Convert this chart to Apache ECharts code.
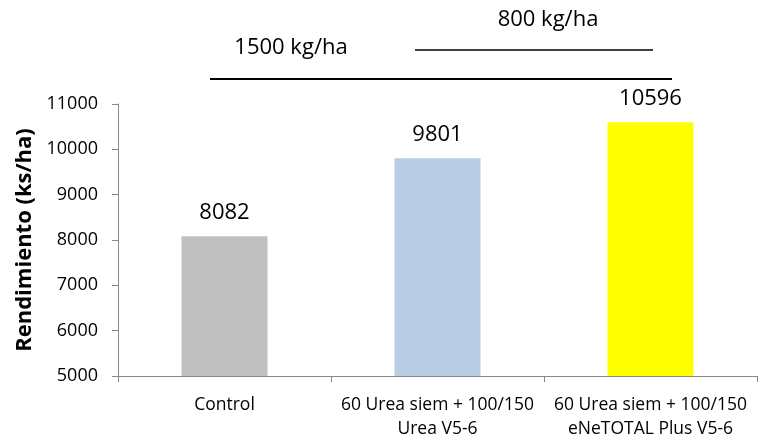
<!DOCTYPE html>
<html><head><meta charset="utf-8">
<script src="https://cdn.jsdelivr.net/npm/echarts@6/dist/echarts.min.js"></script>
<style>html,body{margin:0;padding:0;background:#fff}#c{width:759px;height:441px}</style>
</head><body><div id="c"></div>
<script>
const categories = ['Control', '60 Urea siem + 100/150\nUrea V5-6', '60 Urea siem + 100/150\neNeTOTAL Plus V5-6'];
const values = [8082, 9801, 10596];
const colors = ['#BFBFBF', '#B9CDE5', '#FFFF00'];
const yTicks = {min: 5000, max: 11000, interval: 1000};
const annotations = ['1500 kg/ha', '800 kg/ha'];
const font = '"Open Sans", sans-serif';

const chart = echarts.init(document.getElementById('c'));
chart.setOption({
  animation: false,
  grid: {left: 118, right: 2, top: 104, bottom: 64, containLabel: false},
  xAxis: {
    type: 'category', data: categories,
    axisLine: {lineStyle: {color: '#868686', width: 1}},
    axisTick: {show: true, length: 6, alignWithLabel: false, lineStyle: {color: '#868686'}},
    axisLabel: {interval: 0, color: '#000', fontSize: 17.5, fontFamily: font, margin: 17, lineHeight: 24, hideOverlap: false}
  },
  yAxis: {
    type: 'value', min: yTicks.min, max: yTicks.max, interval: yTicks.interval,
    name: 'Rendimiento (ks/ha)', nameLocation: 'middle', nameGap: 82,
    nameTextStyle: {fontSize: 22, fontWeight: 'bold', color: '#000', fontFamily: font},
    axisLine: {show: true, lineStyle: {color: '#868686'}},
    axisTick: {show: true, length: 6, lineStyle: {color: '#868686'}},
    splitLine: {show: false},
    axisLabel: {color: '#000', fontSize: 18, fontFamily: font, margin: 20, formatter: v => String(v)}
  },
  series: [{
    type: 'bar', barWidth: 86,
    data: values.map((v, i) => ({value: v, itemStyle: {color: colors[i]}})),
    label: {show: true, position: 'top', distance: 13, color: '#000', fontSize: 22, fontFamily: font}
  }],
  graphic: [
    {type: 'line', shape: {x1: 210, y1: 79, x2: 672, y2: 79}, style: {stroke: '#000', lineWidth: 2}},
    {type: 'line', shape: {x1: 415, y1: 50, x2: 653, y2: 50}, style: {stroke: '#000', lineWidth: 1.5}},
    {type: 'text', x: 291, y: 48, style: {text: annotations[0], fontSize: 22, fontFamily: font, fill: '#000', align: 'center', verticalAlign: 'middle'}},
    {type: 'text', x: 548, y: 20, style: {text: annotations[1], fontSize: 22, fontFamily: font, fill: '#000', align: 'center', verticalAlign: 'middle'}}
  ]
});
</script></body></html>
